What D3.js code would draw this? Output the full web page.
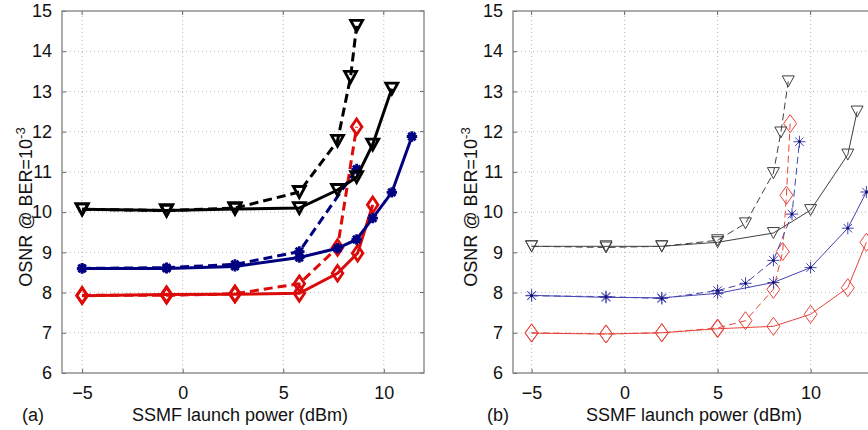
<!DOCTYPE html>
<html><head><meta charset="utf-8">
<script src="https://cdn.jsdelivr.net/npm/d3@7"></script>
<style>html,body{margin:0;padding:0;background:#fff;}svg{display:block;}</style>
</head><body>
<script>
// ---------- data ----------
const xTicks = [-5, 0, 5, 10];
const yTicks = [6, 7, 8, 9, 10, 11, 12, 13, 14, 15];
const xLabel = "SSMF launch power (dBm)";
const panelLabels = ["(a)", "(b)"];

// Panel (a)
const aBlackSolidX = [-5, -0.8, 2.6, 5.8, 7.7, 8.65, 9.45, 10.4];
const aBlackSolidY = [10.07, 10.04, 10.08, 10.1, 10.55, 10.87, 11.68, 13.07];
const aBlackDashX  = [-5, -0.8, 2.6, 5.8, 7.7, 8.35, 8.65];
const aBlackDashY  = [10.07, 10.04, 10.1, 10.5, 11.77, 13.36, 14.63];
const aBlueSolidX  = [-5, -0.8, 2.6, 5.8, 7.7, 8.65, 9.45, 10.4, 11.4];
const aBlueSolidY  = [8.6, 8.6, 8.65, 8.87, 9.1, 9.32, 9.85, 10.49, 11.88];
const aBlueDashX   = [-5, -0.8, 2.6, 5.8, 8.65];
const aBlueDashY   = [8.6, 8.62, 8.7, 9.02, 11.07];
const aRedSolidX   = [-5, -0.8, 2.6, 5.8, 7.7, 8.7, 9.45];
const aRedSolidY   = [7.92, 7.95, 7.96, 7.98, 8.48, 8.98, 10.18];
const aRedDashX    = [-5, -0.8, 2.6, 5.8, 7.7, 8.65];
const aRedDashY    = [7.93, 7.93, 7.97, 8.22, 9.12, 12.12];

// Panel (b)
const bBlackSolidX = [-5, -1, 2, 5, 8, 10, 12, 12.5];
const bBlackSolidY = [9.15, 9.15, 9.15, 9.25, 9.48, 10.05, 11.43, 12.5];
const bBlackDashX  = [-5, -1, 2, 5, 6.5, 8, 8.4, 8.8];
const bBlackDashY  = [9.15, 9.12, 9.15, 9.3, 9.72, 10.97, 11.98, 13.25];
const bBlueSolidX  = [-5, -1, 2, 5, 8, 10, 12, 13];
const bBlueSolidY  = [7.93, 7.88, 7.87, 7.98, 8.25, 8.62, 9.6, 10.5];
const bBlueDashX   = [-5, -1, 2, 5, 6.5, 8, 9, 9.4];
const bBlueDashY   = [7.92, 7.9, 7.85, 8.05, 8.23, 8.8, 9.95, 11.75];
const bRedSolidX   = [-5, -1, 2, 5, 8, 10, 12, 13];
const bRedSolidY   = [6.99, 6.97, 7.0, 7.1, 7.16, 7.46, 8.12, 9.25];
const bRedDashX    = [-5, -1, 2, 5, 6.5, 8, 8.5, 8.7, 8.9];
const bRedDashY    = [7.0, 6.97, 7.0, 7.12, 7.3, 8.08, 9.02, 10.42, 12.2];

// ---------- drawing ----------
const W = 868, H = 430;
const FONT = "Arial, 'Liberation Sans', Helvetica, sans-serif";
const svg = d3.select("body").append("svg").attr("width", W).attr("height", H)
  .style("background", "#fff");

const zip = (xs, ys) => xs.map((v, i) => [v, ys[i]]);

function markerPath(kind, s) {
  if (kind === "tri") return `M${-s.w},${-s.h}L${s.w},${-s.h}L0,${s.h}Z`;
  if (kind === "dia") return `M0,${-s.h}L${s.w},0L0,${s.h}L${-s.w},0Z`;
  const r = s.r, q = r * 0.7071;
  return `M${-r},0L${r},0M0,${-r}L0,${r}M${-q},${-q}L${q},${q}M${-q},${q}L${q},${-q}`;
}

function panel(cfg) {
  const x = d3.scaleLinear().domain(cfg.xDomain).range(cfg.xRange);
  const y = d3.scaleLinear().domain([6, 15]).range([373, 11]);
  const g = svg.append("g");
  const x0 = cfg.xRange[0], x1 = cfg.xRange[1], y0 = 373, y1 = 11;

  // grid
  g.selectAll(".gx").data(xTicks).join("line")
    .attr("x1", d => x(d)).attr("x2", d => x(d)).attr("y1", y0).attr("y2", y1)
    .attr("stroke", "#b8b8b8").attr("stroke-width", 1).attr("stroke-dasharray", "1,3");
  g.selectAll(".gy").data(yTicks.slice(1, -1)).join("line")
    .attr("x1", x0).attr("x2", x1).attr("y1", d => y(d)).attr("y2", d => y(d))
    .attr("stroke", "#b8b8b8").attr("stroke-width", 1).attr("stroke-dasharray", "1,3");

  // axes via d3 axis (inner ticks)
  const yAx = g.append("g").attr("transform", `translate(${x0},0)`)
    .call(d3.axisLeft(y).tickValues(yTicks).tickSizeInner(-4).tickSizeOuter(0).tickPadding(10));
  const xAx = g.append("g").attr("transform", `translate(0,${y0})`)
    .call(d3.axisBottom(x).tickValues(xTicks).tickSizeInner(-4).tickSizeOuter(0).tickPadding(13));
  [yAx, xAx].forEach(a => {
    a.select(".domain").remove();
    a.selectAll("line").attr("stroke", "#666");
    a.selectAll("text").attr("font-family", FONT).attr("font-size", 18).attr("fill", "#111");
  });
  // right/top inner ticks
  g.selectAll(".ry").data(yTicks).join("line")
    .attr("x1", x1).attr("x2", x1 - 4).attr("y1", d => y(d)).attr("y2", d => y(d)).attr("stroke", "#666");
  g.selectAll(".tx").data(xTicks).join("line")
    .attr("x1", d => x(d)).attr("x2", d => x(d)).attr("y1", y1).attr("y2", y1 + 4).attr("stroke", "#666");

  // frame
  g.append("rect").attr("x", x0).attr("y", y1).attr("width", x1 - x0).attr("height", y0 - y1)
    .attr("fill", "none").attr("stroke", "#808080").attr("stroke-width", 1.3);

  // series
  const line = d3.line().x(d => x(d[0])).y(d => y(d[1]));
  cfg.series.forEach(s => {
    const data = zip(s.x, s.y);
    g.append("path").datum(data).attr("d", line).attr("fill", "none")
      .attr("stroke", s.color).attr("stroke-width", cfg.lw)
      .attr("stroke-dasharray", s.dash ? cfg.dash : null);
    const mp = markerPath(s.marker, cfg.msize[s.marker]);
    g.selectAll(null).data(data).join("path")
      .attr("transform", d => `translate(${x(d[0])},${y(d[1])})`)
      .attr("d", mp).attr("fill", s.marker === "ast" && cfg.fillAst ? s.color : "none")
      .attr("stroke", s.color).attr("stroke-width", cfg.mw).attr("stroke-linejoin", "miter");
    if (s.marker === "ast" && !cfg.fillAst) {
      g.selectAll(null).data(data).join("circle")
        .attr("cx", d => x(d[0])).attr("cy", d => y(d[1])).attr("r", 1.4).attr("fill", "#101060");
    }
  });

  // labels
  g.append("text").attr("x", cfg.xLabelX).attr("y", 421).attr("text-anchor", "middle")
    .attr("font-family", FONT).attr("font-size", 18).attr("fill", "#111").text(xLabel);
  g.append("text").attr("x", cfg.panelX).attr("y", 421)
    .attr("font-family", FONT).attr("font-size", 18).attr("fill", "#111").text(cfg.panelLabel);
  const yl = g.append("text").attr("transform", `translate(${cfg.yLabelX},207) rotate(-90)`)
    .attr("text-anchor", "middle").attr("font-family", FONT).attr("font-size", 18).attr("fill", "#111");
  yl.append("tspan").text("OSNR @ BER=10");
  yl.append("tspan").attr("dy", -7).attr("font-size", 13).text("-3");
}

panel({
  xDomain: [-6, 12], xRange: [62, 424], lw: 3, mw: 2.8, dash: "9,5", fillAst: true,
  msize: { tri: { w: 6, h: 5.5 }, dia: { w: 5.3, h: 7.8 }, ast: { r: 5.2 } },
  xLabelX: 240, panelX: 22, panelLabel: panelLabels[0], yLabelX: 32,
  series: [
    { x: aRedSolidX, y: aRedSolidY, color: "#dd0a0a", marker: "dia", dash: false },
    { x: aRedDashX, y: aRedDashY, color: "#dd0a0a", marker: "dia", dash: true },
    { x: aBlueSolidX, y: aBlueSolidY, color: "#000080", marker: "ast", dash: false },
    { x: aBlueDashX, y: aBlueDashY, color: "#000080", marker: "ast", dash: true },
    { x: aBlackSolidX, y: aBlackSolidY, color: "#000", marker: "tri", dash: false },
    { x: aBlackDashX, y: aBlackDashY, color: "#000", marker: "tri", dash: true }
  ]
});

panel({
  xDomain: [-6, 16], xRange: [513, 922.2], lw: 1, mw: 1, dash: "7,4", fillAst: false,
  msize: { tri: { w: 6, h: 5.5 }, dia: { w: 6.5, h: 9 }, ast: { r: 6 } },
  xLabelX: 694, panelX: 487, panelLabel: panelLabels[1], yLabelX: 477,
  series: [
    { x: bRedSolidX, y: bRedSolidY, color: "#e8453c", marker: "dia", dash: false },
    { x: bRedDashX, y: bRedDashY, color: "#e8453c", marker: "dia", dash: true },
    { x: bBlueSolidX, y: bBlueSolidY, color: "#4444b0", marker: "ast", dash: false },
    { x: bBlueDashX, y: bBlueDashY, color: "#4444b0", marker: "ast", dash: true },
    { x: bBlackSolidX, y: bBlackSolidY, color: "#404040", marker: "tri", dash: false },
    { x: bBlackDashX, y: bBlackDashY, color: "#404040", marker: "tri", dash: true }
  ]
});
</script>
</body></html>
